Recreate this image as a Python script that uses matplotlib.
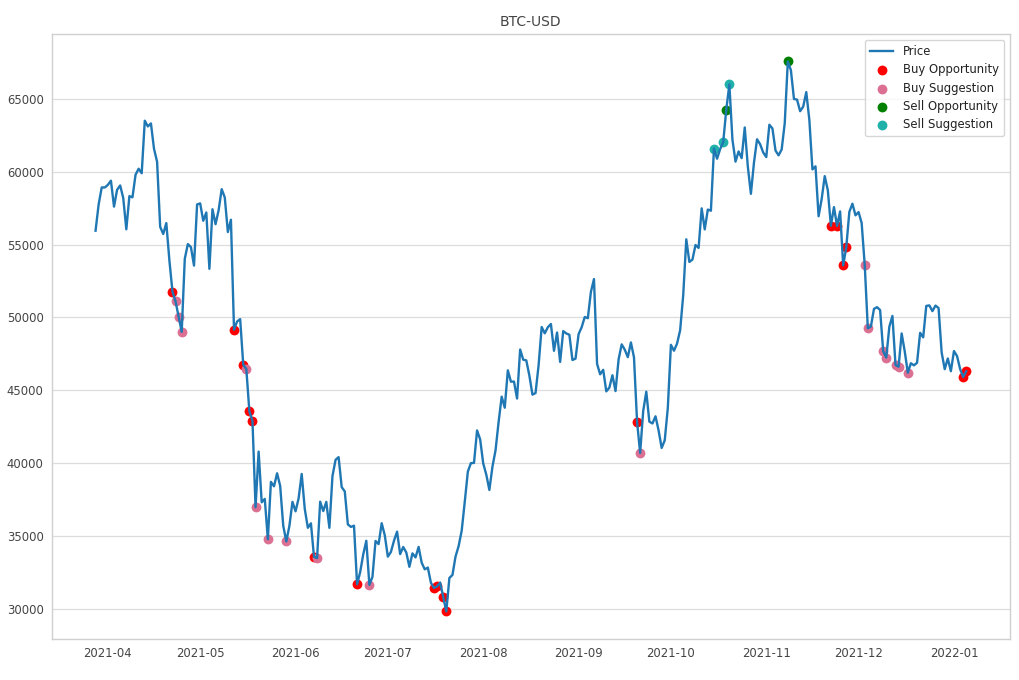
import matplotlib
matplotlib.use("Agg")
import matplotlib.pyplot as plt
import matplotlib.dates as mdates
import pandas as pd
import numpy as np

# ---------------- data ----------------
start_date = "2021-03-28"
end_date = "2022-01-05"

prices = [
    55950, 57750, 58918, 58918,                      # Mar 28-31
    59095, 59384, 57604, 58758, 59057, 58193, 56048, 58323, 58245, 59793,
    60205, 59893, 63503, 63109, 63315, 61572, 60683, 56216, 55724, 56473,
    53906, 51762, 51093, 50050, 49004, 54021, 55033, 54824, 53555, 57750,  # Apr
    57828, 56631, 57200, 53333, 57424, 56396, 57356, 58803, 58232, 55859,
    56704, 49150, 49716, 49880, 46760, 46456, 43538, 42909, 36964, 40784,
    37304, 37536, 34770, 38705, 38402, 39294, 38436, 35698, 34616, 35678,
    37333,                                                                 # May
    36684, 37576, 39249, 36846, 35551, 35862, 33560, 33472, 37345, 36702,
    37334, 35552, 39097, 40218, 40406, 38347, 38053, 35787, 35615, 35698,
    31676, 32505, 33723, 34662, 31637, 32186, 34650, 34434, 35867, 35041,  # Jun
    33572, 33897, 34668, 35287, 33747, 34235, 33855, 32877, 33798, 33520,
    34240, 33155, 32702, 32822, 31781, 31421, 31533, 31796, 30817, 29807,
    32110, 32313, 33581, 34292, 35350, 37337, 39406, 39995, 40008, 42236,
    41626,                                                                 # Jul
    39974, 39201, 38153, 39747, 40869, 42816, 44556, 43798, 46365, 45585,
    45593, 44428, 47793, 47096, 47047, 46004, 44695, 44802, 46717, 49339,
    48905, 49321, 49546, 47706, 48960, 46942, 49058, 48897, 48806, 47074,
    47167,                                                                 # Aug
    48848, 49327, 50026, 49944, 51753, 52633, 46812, 46092, 46400, 44919,
    45178, 46026, 44940, 47112, 48147, 47784, 47268, 48278, 47260, 42844,
    40694, 43575, 44897, 42840, 42716, 43208, 42236, 41034, 41564, 43791,  # Sep
    48116, 47711, 48200, 49112, 51514, 55361, 53805, 53967, 54968, 54771,
    57484, 56041, 57401, 57321, 61593, 60892, 61553, 62026, 64262, 65993,
    62210, 60693, 61393, 60931, 63039, 60364, 58483, 60622, 62228, 61888,
    61319,                                                                 # Oct
    61005, 63227, 62970, 61453, 61125, 61528, 63327, 67567, 66972, 64995,
    64950, 64155, 64469, 65466, 63557, 60161, 60369, 56943, 58119, 59697,
    58730, 56289, 57570, 56280, 57275, 53569, 54815, 57248, 57806, 57005,  # Nov
    57229, 56477, 53598, 49253, 49369, 50582, 50700, 50504, 47672, 47243,
    49362, 50098, 46737, 46612, 48897, 47665, 46202, 46849, 46707, 46880,
    48937, 48629, 50785, 50822, 50430, 50810, 50640, 47589, 46445, 47178,
    46306,                                                                 # Dec
    47687, 47345, 46458, 45898, 46300,                                     # Jan
]

buy_opportunity_dates = [
    "2021-04-22", "2021-05-12", "2021-05-15", "2021-05-17", "2021-05-18",
    "2021-06-07", "2021-06-21", "2021-07-16", "2021-07-17", "2021-07-19",
    "2021-07-20", "2021-09-20", "2021-11-22", "2021-11-24", "2021-11-26",
    "2021-11-27", "2022-01-04", "2022-01-05",
]
buy_suggestion_dates = [
    "2021-04-23", "2021-04-24", "2021-04-25", "2021-05-16", "2021-05-19",
    "2021-05-23", "2021-05-29", "2021-06-08", "2021-06-25", "2021-09-21",
    "2021-12-03", "2021-12-04", "2021-12-09", "2021-12-10", "2021-12-13",
    "2021-12-14", "2021-12-17",
]
sell_opportunity_dates = ["2021-10-19", "2021-11-08"]
sell_suggestion_dates = ["2021-10-15", "2021-10-18", "2021-10-20"]

title = "BTC-USD"

# ---------------- plot ----------------
dates = pd.date_range(start_date, end_date, freq="D")
series = pd.Series(prices, index=dates)

fig = plt.figure(figsize=(10.2, 6.8), dpi=100)
ax = fig.add_axes([0.051, 0.0603, 0.939, 0.8897])
ax.set_facecolor("white")

ax.plot(series.index, series.values, color="#1f77b4", lw=1.7, label="Price")

def pts(ds):
    idx = pd.to_datetime(ds)
    return idx, series.loc[idx].values

for ds, col, lab in [
    (buy_opportunity_dates, "red", "Buy Opportunity"),
    (buy_suggestion_dates, "palevioletred", "Buy Suggestion"),
    (sell_opportunity_dates, "green", "Sell Opportunity"),
    (sell_suggestion_dates, "lightseagreen", "Sell Suggestion"),
]:
    x, y = pts(ds)
    ax.scatter(x, y, s=50, color=col, label=lab, linewidths=0)

ax.xaxis.set_major_locator(mdates.MonthLocator())
ax.xaxis.set_major_formatter(mdates.DateFormatter("%Y-%m"))

ax.grid(axis="y", color="#dddddd", lw=0.9)
ax.grid(axis="x", visible=False)
ax.set_axisbelow(True)
for sp in ax.spines.values():
    sp.set_color("#d0d0d0")
    sp.set_linewidth(1.0)
ax.tick_params(axis="both", length=0, labelsize=8.4, labelcolor="#444444", pad=6)

ax.set_title(title, fontsize=10, color="#444444", pad=6)

leg = ax.legend(loc="upper right", frameon=True, fontsize=8.4, borderpad=0.45,
                labelspacing=0.45, handlelength=2.0)
leg.get_frame().set_edgecolor("#cccccc")
for t in leg.get_texts():
    t.set_color("#222222")

fig.savefig("out.png", dpi=100, facecolor="white")
